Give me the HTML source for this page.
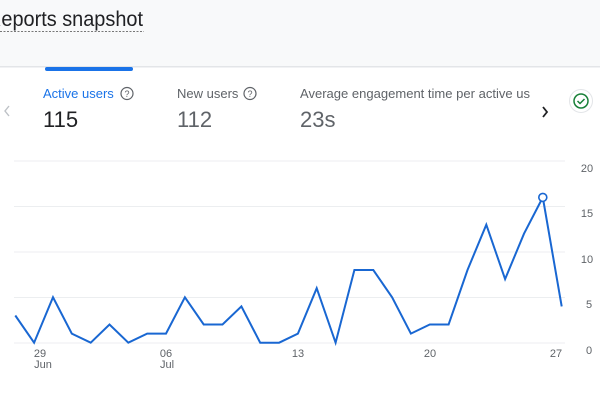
<!DOCTYPE html>
<html><head><meta charset="utf-8"><style>
html,body{margin:0;padding:0;background:#fff;}
body{width:600px;height:403px;overflow:hidden;font-family:"Liberation Sans",sans-serif;}
</style></head><body>
<svg width="600" height="403" xmlns="http://www.w3.org/2000/svg" font-family="Liberation Sans, sans-serif">
<rect x="0" y="0" width="600" height="66" fill="#f8f9fa"/>
<rect x="0" y="66" width="600" height="1.5" fill="#e3e5e8"/>
<text x="-13" y="26" font-size="21" fill="#202124" textLength="156" lengthAdjust="spacingAndGlyphs">Reports snapshot</text>
<line x1="0" y1="31.5" x2="144" y2="31.5" stroke="#777" stroke-width="1" stroke-dasharray="2,1.5"/>
<rect x="45" y="67" width="88" height="4" rx="2" fill="#1a73e8"/>
<path d="M9,106 l-4,5 l4,5" fill="none" stroke="#bdc1c6" stroke-width="1.4"/>
<text x="43" y="98" font-size="13" fill="#1a73e8">Active users</text>
<circle cx="127" cy="93.5" r="6" fill="none" stroke="#5f6368" stroke-width="1.2"/>
<text x="127" y="96.8" font-size="9" fill="#5f6368" text-anchor="middle">?</text>
<text x="43" y="127" font-size="22" fill="#202124">115</text>
<text x="177" y="98" font-size="13" fill="#5f6368">New users</text>
<circle cx="250" cy="93.5" r="6" fill="none" stroke="#5f6368" stroke-width="1.2"/>
<text x="250" y="96.8" font-size="9" fill="#5f6368" text-anchor="middle">?</text>
<text x="177" y="127" font-size="22" fill="#5f6368">112</text>
<text x="300" y="98" font-size="13" fill="#5f6368" textLength="230" lengthAdjust="spacingAndGlyphs">Average engagement time per active us</text>
<text x="300" y="127" font-size="22" fill="#5f6368">23s</text>
<path d="M543,107 l4,5 l-4,5" fill="none" stroke="#202124" stroke-width="1.8"/>
<circle cx="581" cy="101" r="11.5" fill="#fff" stroke="#e3e5e8"/>
<circle cx="581" cy="101" r="7" fill="none" stroke="#188038" stroke-width="1.5"/>
<path d="M577.5,101 l2.5,2.5 l4.5,-4.5" fill="none" stroke="#188038" stroke-width="1.5"/>
<g stroke="#eceef0" stroke-width="1">
<line x1="14" y1="161" x2="565" y2="161"/>
<line x1="14" y1="206.5" x2="565" y2="206.5"/>
<line x1="14" y1="252" x2="565" y2="252"/>
<line x1="14" y1="297.5" x2="565" y2="297.5"/>
<line x1="14" y1="343" x2="565" y2="343"/>
</g>
<g font-size="11" fill="#5f6368" text-anchor="middle">
<text x="587" y="172">20</text>
<text x="587" y="217">15</text>
<text x="587" y="263">10</text>
<text x="589" y="308">5</text>
<text x="589" y="354">0</text>
</g>
<g font-size="11" fill="#5f6368" text-anchor="middle">
<text x="40" y="357">29</text><text x="43" y="368">Jun</text>
<text x="166" y="357">06</text><text x="167" y="368">Jul</text>
<text x="298" y="357">13</text>
<text x="430" y="357">20</text>
<text x="556" y="357">27</text>
</g>
<polyline fill="none" stroke="#1967d2" stroke-width="2" stroke-linejoin="miter" points="15.3,315.5 34.1,342.7 53,297.3 71.8,333.6 90.7,342.7 109.5,324.5 128.3,342.7 147.2,333.6 166,333.6 184.9,297.3 203.7,324.5 222.5,324.5 241.4,306.4 260.2,342.7 279.1,342.7 297.9,333.6 316.7,288.2 335.6,342.7 354.4,270 373.3,270 392.1,297.3 410.9,333.6 429.8,324.5 448.6,324.5 467.5,270 486.3,224.7 505.1,279.1 524,233.7 542.8,197.4 561.7,306.4"/>
<circle cx="542.8" cy="197.4" r="4" fill="#fff" stroke="#1967d2" stroke-width="1.6"/>
</svg>
</body></html>
